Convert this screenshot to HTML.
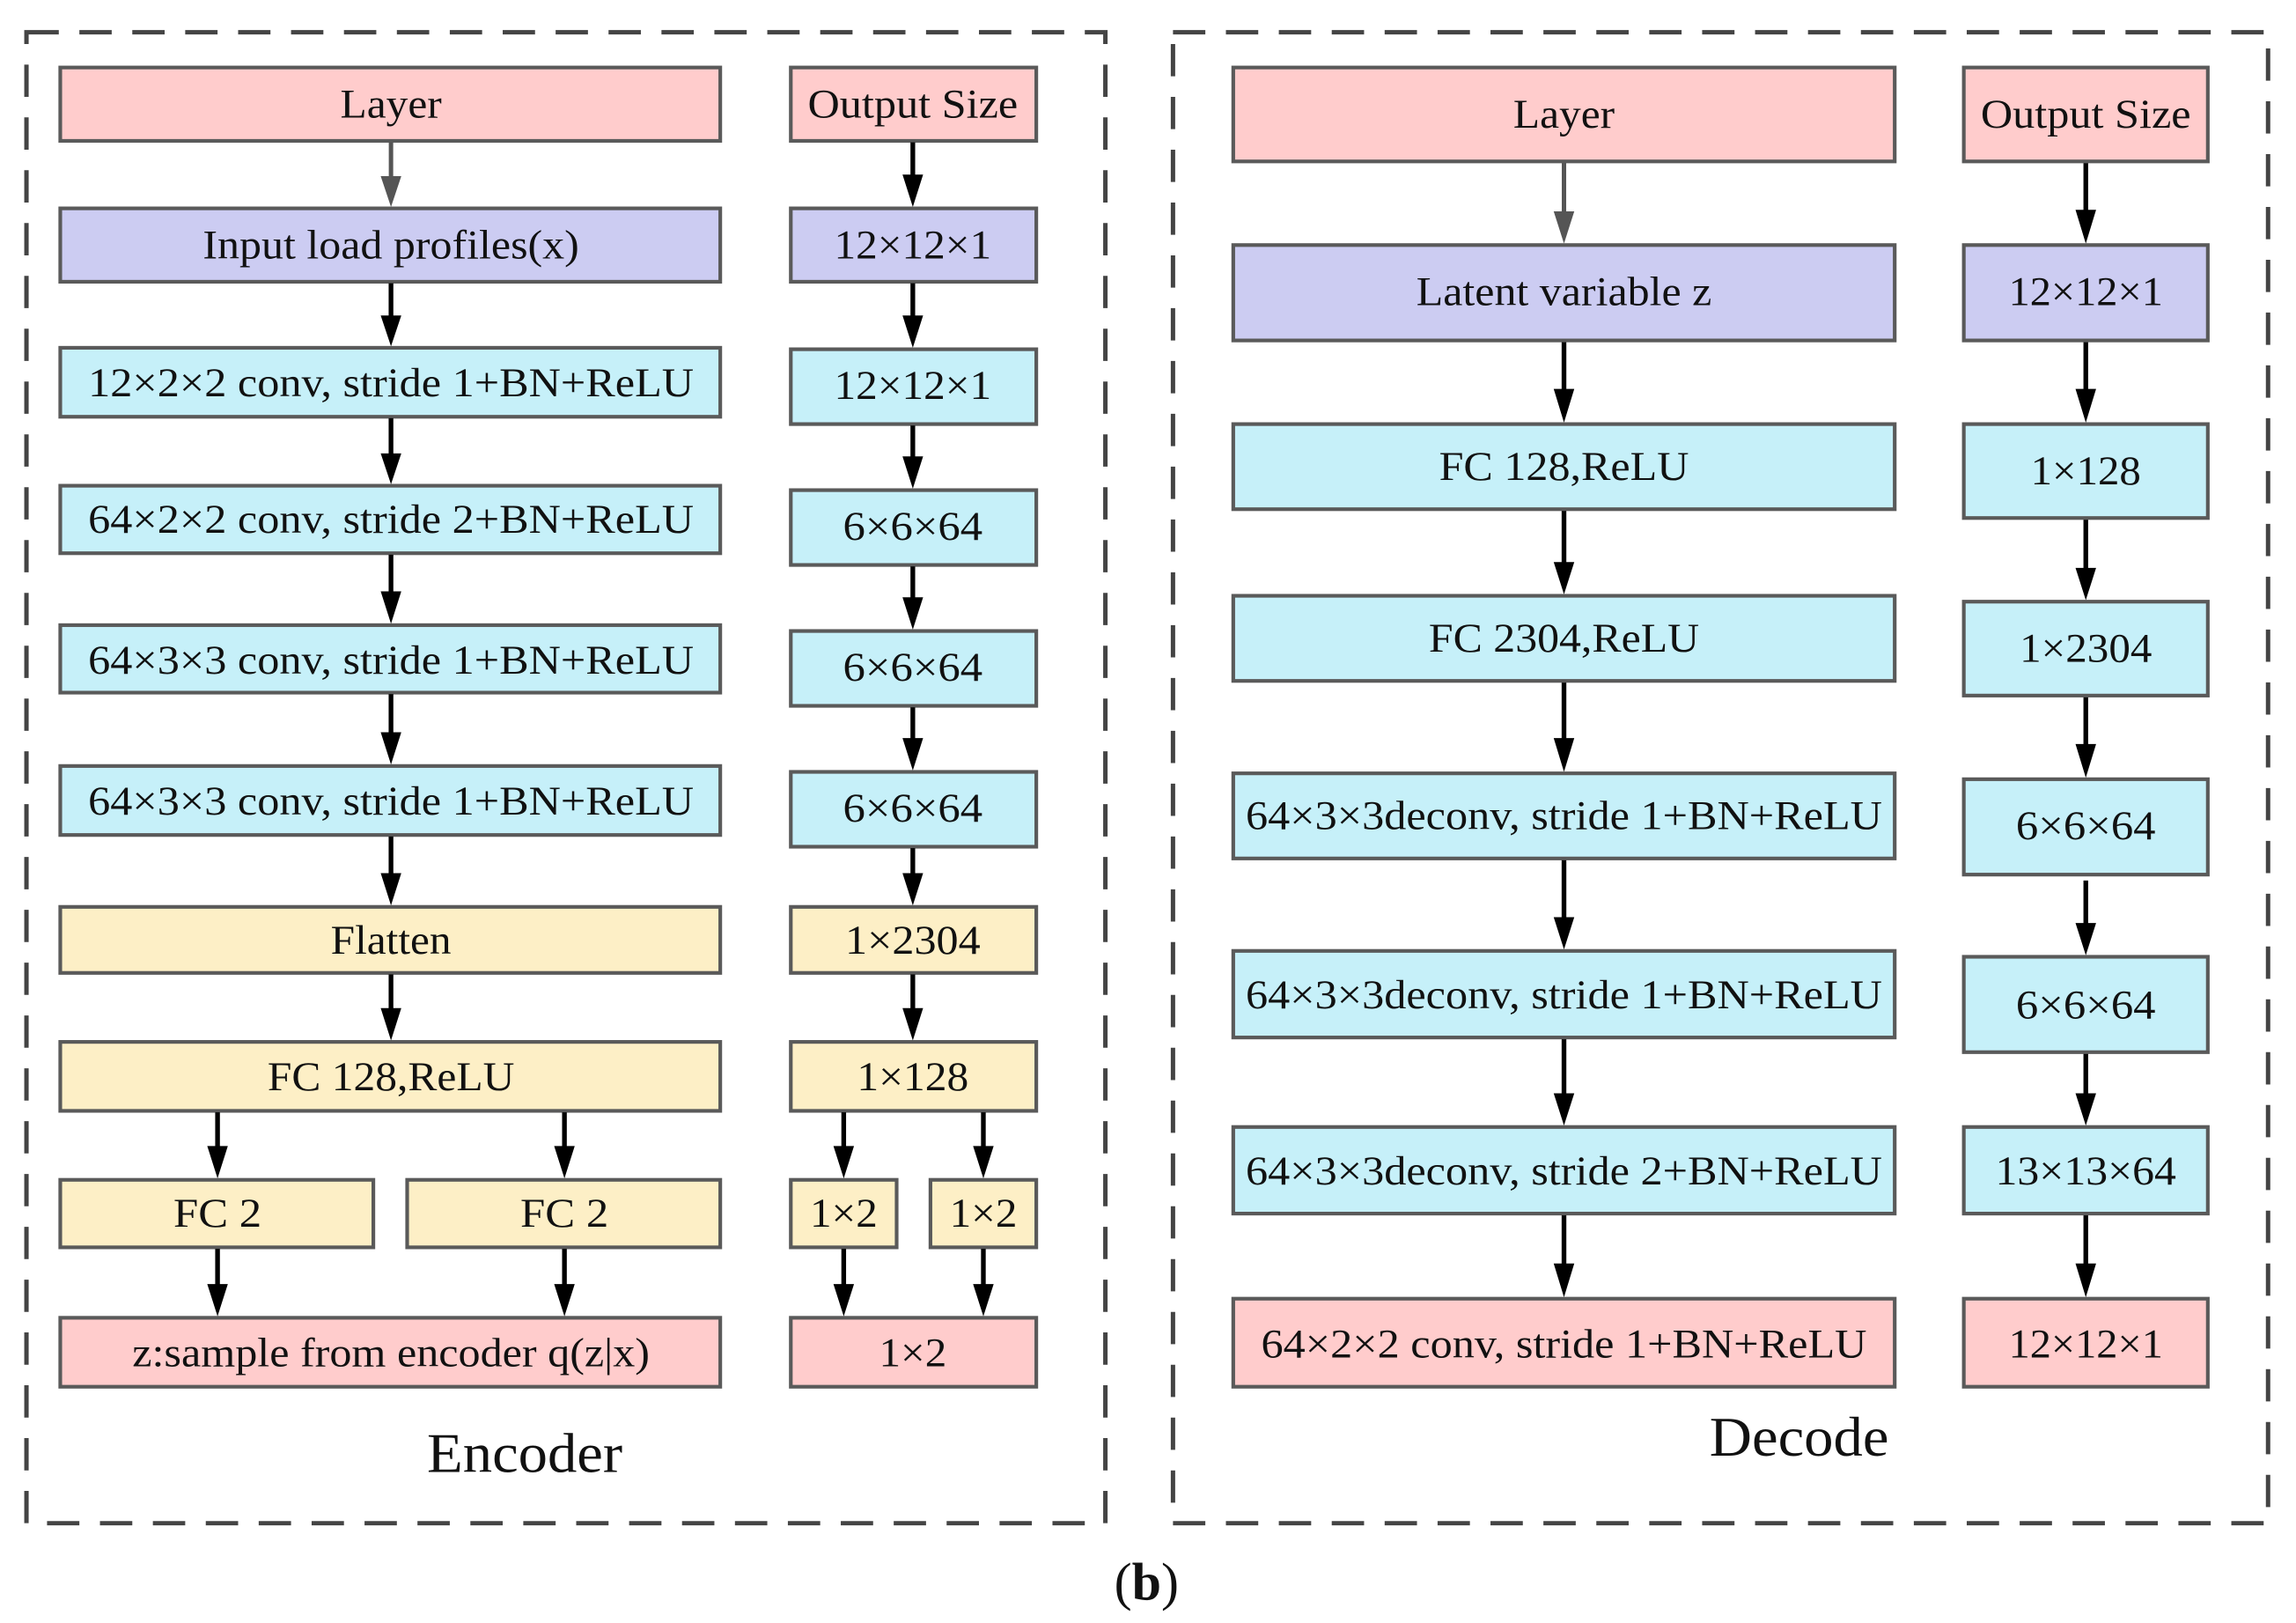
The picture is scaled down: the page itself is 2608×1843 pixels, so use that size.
<!DOCTYPE html>
<html><head><meta charset="utf-8"><style>
html,body{margin:0;padding:0;background:#fff}
svg{display:block}
text{font-family:"Liberation Serif","Times New Roman",serif;font-size:28px;fill:#111;text-anchor:middle}
rect.b{stroke:#5a5a5a;stroke-width:2.5}
.p{fill:#ffcccc}.v{fill:#ccccf2}.c{fill:#c6f0f9}.y{fill:#fdefc6}
</style></head><body>
<svg width="2608" height="1843" viewBox="0 0 1562 1106" preserveAspectRatio="none" xmlns="http://www.w3.org/2000/svg">
<g fill="none" stroke="#444" stroke-width="3" stroke-dasharray="22,14">
<rect x="18" y="22" width="734" height="1016"/>
<rect x="798" y="22" width="745" height="1016"/>
</g>
<!-- Encoder left -->
<rect class="b p" x="41" y="46" width="449" height="50"/><text x="266" y="80" textLength="69" lengthAdjust="spacingAndGlyphs">Layer</text>
<rect class="b v" x="41" y="142" width="449" height="50"/><text x="266" y="176" textLength="256" lengthAdjust="spacingAndGlyphs">Input load profiles(x)</text>
<rect class="b c" x="41" y="237" width="449" height="47"/><text x="266" y="270" textLength="412" lengthAdjust="spacingAndGlyphs">12×2×2 conv, stride 1+BN+ReLU</text>
<rect class="b c" x="41" y="331" width="449" height="46"/><text x="266" y="363" textLength="412" lengthAdjust="spacingAndGlyphs">64×2×2 conv, stride 2+BN+ReLU</text>
<rect class="b c" x="41" y="426" width="449" height="46"/><text x="266" y="459" textLength="412" lengthAdjust="spacingAndGlyphs">64×3×3 conv, stride 1+BN+ReLU</text>
<rect class="b c" x="41" y="522" width="449" height="47"/><text x="266" y="555" textLength="412" lengthAdjust="spacingAndGlyphs">64×3×3 conv, stride 1+BN+ReLU</text>
<rect class="b y" x="41" y="618" width="449" height="45"/><text x="266" y="650" textLength="82" lengthAdjust="spacingAndGlyphs">Flatten</text>
<rect class="b y" x="41" y="710" width="449" height="47"/><text x="266" y="743" textLength="168" lengthAdjust="spacingAndGlyphs">FC 128,ReLU</text>
<rect class="b y" x="41" y="804" width="213" height="46"/><text x="148" y="836" textLength="60" lengthAdjust="spacingAndGlyphs">FC 2</text>
<rect class="b y" x="277" y="804" width="213" height="46"/><text x="384" y="836" textLength="60" lengthAdjust="spacingAndGlyphs">FC 2</text>
<rect class="b p" x="41" y="898" width="449" height="47"/><text x="266" y="931" textLength="352" lengthAdjust="spacingAndGlyphs">z:sample from encoder q(z|x)</text>
<!-- Encoder right -->
<rect class="b p" x="538" y="46" width="167" height="50"/><text x="621" y="80" textLength="143" lengthAdjust="spacingAndGlyphs">Output Size</text>
<rect class="b v" x="538" y="142" width="167" height="50"/><text x="621" y="176" textLength="107" lengthAdjust="spacingAndGlyphs">12×12×1</text>
<rect class="b c" x="538" y="238" width="167" height="51"/><text x="621" y="272" textLength="107" lengthAdjust="spacingAndGlyphs">12×12×1</text>
<rect class="b c" x="538" y="334" width="167" height="51"/><text x="621" y="368" textLength="95" lengthAdjust="spacingAndGlyphs">6×6×64</text>
<rect class="b c" x="538" y="430" width="167" height="51"/><text x="621" y="464" textLength="95" lengthAdjust="spacingAndGlyphs">6×6×64</text>
<rect class="b c" x="538" y="526" width="167" height="51"/><text x="621" y="560" textLength="95" lengthAdjust="spacingAndGlyphs">6×6×64</text>
<rect class="b y" x="538" y="618" width="167" height="45"/><text x="621" y="650" textLength="92" lengthAdjust="spacingAndGlyphs">1×2304</text>
<rect class="b y" x="538" y="710" width="167" height="47"/><text x="621" y="743" textLength="76" lengthAdjust="spacingAndGlyphs">1×128</text>
<rect class="b y" x="538" y="804" width="72" height="46"/><text x="574" y="836" textLength="46" lengthAdjust="spacingAndGlyphs">1×2</text>
<rect class="b y" x="633" y="804" width="72" height="46"/><text x="669" y="836" textLength="46" lengthAdjust="spacingAndGlyphs">1×2</text>
<rect class="b p" x="538" y="898" width="167" height="47"/><text x="621" y="931" textLength="46" lengthAdjust="spacingAndGlyphs">1×2</text>
<text x="357" y="1003" style="font-size:38px" textLength="133" lengthAdjust="spacingAndGlyphs">Encoder</text>
<!-- Encoder arrows -->
<g stroke="#555" stroke-width="3" fill="#555">
<path d="M266 97 V122" fill="none"/><path d="M259 120 H273 L266 141 Z" stroke="none"/>
<path d="M1064 111 V146" fill="none"/><path d="M1057 144 H1071 L1064 166 Z" stroke="none"/>
</g>
<g stroke="#000" stroke-width="3.2" fill="none">
<path d="M266 193V218M266 285V312M266 378V406M266 473V502M266 570V598M266 664V690M148 758V784M384 758V784M148 851V878M384 851V878M621 97V122M621 193V218M621 290V314M621 386V410M621 482V506M621 578V598M621 664V690M574 758V784M669 758V784M574 851V878M669 851V878"/>
<path d="M1064 233V268M1064 348V386M1064 465V506M1064 586V628M1064 708V748M1064 828V864M1419 111V146M1419 233V268M1419 354V390M1419 475V510M1419 600V632M1419 718V748M1419 828V864"/>
</g>
<g fill="#000">
<path d="M259 215h14l-7 21zM259 309h14l-7 21zM259 403h14l-7 22zM259 499h14l-7 22zM259 595h14l-7 22zM259 687h14l-7 22zM141 781h14l-7 22zM377 781h14l-7 22zM141 875h14l-7 22zM377 875h14l-7 22z"/>
<path d="M614 119h14l-7 22zM614 215h14l-7 22zM614 311h14l-7 22zM614 407h14l-7 22zM614 503h14l-7 22zM614 595h14l-7 22zM614 687h14l-7 22zM567 781h14l-7 22zM662 781h14l-7 22zM567 875h14l-7 22zM662 875h14l-7 22z"/>
<path d="M1057 265h14l-7 23zM1057 383h14l-7 22zM1057 503h14l-7 23zM1057 625h14l-7 22zM1057 745h14l-7 22zM1057 861h14l-7 23z"/>
<path d="M1412 143h14l-7 23zM1412 265h14l-7 23zM1412 387h14l-7 22zM1412 507h14l-7 23zM1412 629h14l-7 22zM1412 745h14l-7 22zM1412 861h14l-7 23z"/>
</g>
<!-- Decoder left -->
<rect class="b p" x="839" y="46" width="450" height="64"/><text x="1064" y="87" textLength="69" lengthAdjust="spacingAndGlyphs">Layer</text>
<rect class="b v" x="839" y="167" width="450" height="65"/><text x="1064" y="208" textLength="201" lengthAdjust="spacingAndGlyphs">Latent variable z</text>
<rect class="b c" x="839" y="289" width="450" height="58"/><text x="1064" y="327" textLength="170" lengthAdjust="spacingAndGlyphs">FC 128,ReLU</text>
<rect class="b c" x="839" y="406" width="450" height="58"/><text x="1064" y="444" textLength="184" lengthAdjust="spacingAndGlyphs">FC 2304,ReLU</text>
<rect class="b c" x="839" y="527" width="450" height="58"/><text x="1064" y="565" textLength="433" lengthAdjust="spacingAndGlyphs">64×3×3deconv, stride 1+BN+ReLU</text>
<rect class="b c" x="839" y="648" width="450" height="59"/><text x="1064" y="687" textLength="433" lengthAdjust="spacingAndGlyphs">64×3×3deconv, stride 1+BN+ReLU</text>
<rect class="b c" x="839" y="768" width="450" height="59"/><text x="1064" y="807" textLength="433" lengthAdjust="spacingAndGlyphs">64×3×3deconv, stride 2+BN+ReLU</text>
<rect class="b p" x="839" y="885" width="450" height="60"/><text x="1064" y="925" textLength="412" lengthAdjust="spacingAndGlyphs">64×2×2 conv, stride 1+BN+ReLU</text>
<!-- Decoder right -->
<rect class="b p" x="1336" y="46" width="166" height="64"/><text x="1419" y="87" textLength="143" lengthAdjust="spacingAndGlyphs">Output Size</text>
<rect class="b v" x="1336" y="167" width="166" height="65"/><text x="1419" y="208" textLength="105" lengthAdjust="spacingAndGlyphs">12×12×1</text>
<rect class="b c" x="1336" y="289" width="166" height="64"/><text x="1419" y="330" textLength="75" lengthAdjust="spacingAndGlyphs">1×128</text>
<rect class="b c" x="1336" y="410" width="166" height="64"/><text x="1419" y="451" textLength="90" lengthAdjust="spacingAndGlyphs">1×2304</text>
<rect class="b c" x="1336" y="531" width="166" height="65"/><text x="1419" y="572" textLength="95" lengthAdjust="spacingAndGlyphs">6×6×64</text>
<rect class="b c" x="1336" y="652" width="166" height="65"/><text x="1419" y="694" textLength="95" lengthAdjust="spacingAndGlyphs">6×6×64</text>
<rect class="b c" x="1336" y="768" width="166" height="59"/><text x="1419" y="807" textLength="123" lengthAdjust="spacingAndGlyphs">13×13×64</text>
<rect class="b p" x="1336" y="885" width="166" height="60"/><text x="1419" y="925" textLength="105" lengthAdjust="spacingAndGlyphs">12×12×1</text>
<text x="1224" y="992" style="font-size:38px" textLength="122" lengthAdjust="spacingAndGlyphs">Decode</text>
<text x="780" y="1090" style="font-size:36px"><tspan>(</tspan><tspan style="font-weight:bold">b</tspan><tspan>)</tspan></text>
</svg>
</body></html>
